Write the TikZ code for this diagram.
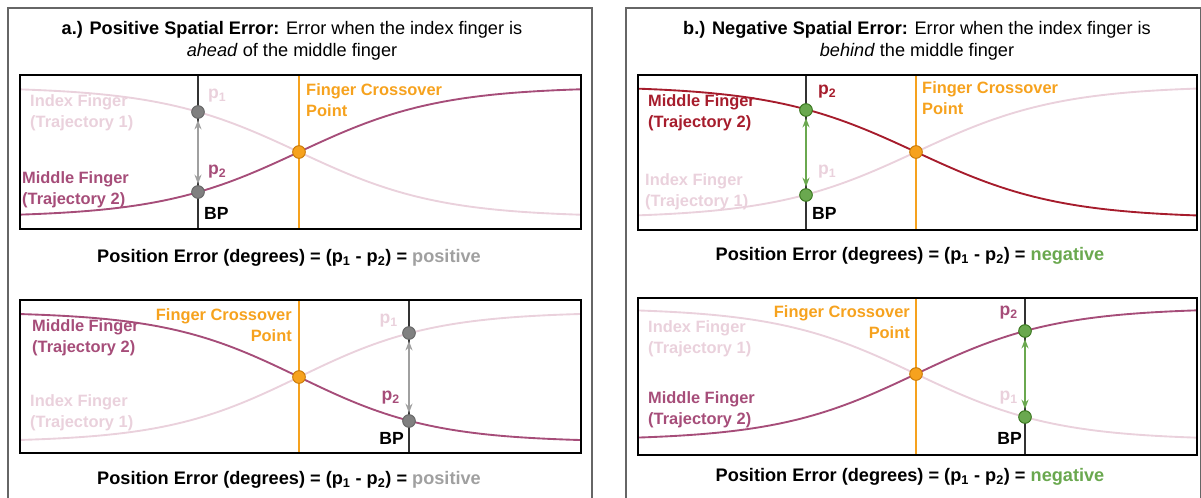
\documentclass[tikz,border=0pt]{standalone}
\usepackage{fontspec}
\setmainfont{Liberation Sans}
\usetikzlibrary{arrows.meta, positioning}

\definecolor{pale}{HTML}{EAD1DC}
\definecolor{plum}{HTML}{A64D79}
\definecolor{berry}{HTML}{A61C2C}
\definecolor{amber}{HTML}{F6A21E}
\definecolor{amberdk}{HTML}{C97A0A}
\definecolor{leaf}{HTML}{6AA84F}
\definecolor{leafdk}{HTML}{38761D}
\definecolor{ash}{HTML}{A0A0A0}
\definecolor{ashdk}{HTML}{666666}

\newcommand{\pone}{p\textsubscript{1}}
\newcommand{\ptwo}{p\textsubscript{2}}

\begin{document}
\begin{tikzpicture}[x=0.03cm, y=-0.03cm,
    every node/.style={font=\fontsize{15.5}{19}\selectfont},
    outer/.style={draw=ashdk, line width=0.9pt},
    box/.style={draw=black, line width=1.8pt},
    traj/.style={line width=1.6pt},
    vl/.style={line width=1.2pt},
    dot/.style={circle, draw, line width=0.8pt, inner sep=0pt, minimum size=0.38cm},
    lab/.style={font=\bfseries\fontsize{14}{18}\selectfont, align=left, inner sep=0pt},
    pl/.style={font=\bfseries\fontsize{15}{15}\selectfont, inner sep=0pt},
    a/.style={{Stealth[length=8pt,width=6pt]}-{Stealth[length=8pt,width=6pt]}, line width=1.6pt, shorten <=1pt, shorten >=1pt},
    err/.style={font=\bfseries\fontsize{15.5}{18}\selectfont}
]
\clip (0,0) rectangle (1201,497);

% outer panels
\draw[outer] (8,8) rectangle (592,530);
\draw[outer] (626,8) rectangle (1200.5,530);
\node[align=center] (ta) at (292,41) {\textbf{a.) Positive Spatial Error:} Error when the index finger is\\\textit{ahead} of the middle finger};
\node[align=center] (tb) at (917,41) {\textbf{b.) Negative Spatial Error:} Error when the index finger is\\\textit{behind} the middle finger};

% ---- a, top
\draw[traj, pale] plot[domain=20:581, samples=90] (\x, {152+65*tanh((\x-299)/140)});
\draw[traj, plum] plot[domain=20:581, samples=90] (\x, {152-65*tanh((\x-299)/140)});
\coordinate (bpa1t) at (198,75);  \coordinate (bpa1b) at (198,229);
\coordinate (cxa1t) at (299,75);  \coordinate (cxa1b) at (299,229);
\draw[vl, black!80] (bpa1t) -- (bpa1b);
\draw[vl, amber] (cxa1t) -- (cxa1b);
\node[dot, fill=ash!80!black, draw=ashdk] (p1a1) at (198,112) {};
\node[dot, fill=ash!80!black, draw=ashdk] (p2a1) at (198,192) {};
\node[dot, fill=amber, draw=amberdk] (xa1) at (299,152) {};
\draw[a, ash] (p2a1) -- (p1a1);
\node[lab, pale, anchor=west] (ia1) at (30,113) {Index Finger\\(Trajectory 1)};
\node[lab, plum, anchor=west] (ma1) at (22,190) {Middle Finger\\(Trajectory 2)};
\node[lab, amber, anchor=west] (ca1) at (306,100) {Finger Crossover\\Point};
\node[pl, pale, anchor=west] at (208,96) {\pone};
\node[pl, plum, anchor=west] at (208,172) {\ptwo};
\node[pl, black, anchor=west] at (204,213) {BP};
\draw[box] (20,75) rectangle (581,229);
\node[err] (ea1) at (289,258) {Position Error (degrees) = (\pone\ - \ptwo) = \textcolor{ash}{positive}};

% ---- a, bottom
\draw[traj, pale] plot[domain=20:581, samples=90] (\x, {377-65*tanh((\x-299)/135)});
\draw[traj, plum] plot[domain=20:581, samples=90] (\x, {377+65*tanh((\x-299)/135)});
\coordinate (bpa2t) at (409,300);  \coordinate (bpa2b) at (409,453);
\coordinate (cxa2t) at (299,300);  \coordinate (cxa2b) at (299,453);
\draw[vl, black!80] (bpa2t) -- (bpa2b);
\draw[vl, amber] (cxa2t) -- (cxa2b);
\node[dot, fill=ash!80!black, draw=ashdk] (p1a2) at (409,333) {};
\node[dot, fill=ash!80!black, draw=ashdk] (p2a2) at (409,421) {};
\node[dot, fill=amber, draw=amberdk] (xa2) at (299,377) {};
\draw[a, ash] (p2a2) -- (p1a2);
\node[lab, plum, anchor=west] (ma2) at (32,338) {Middle Finger\\(Trajectory 2)};
\node[lab, pale, anchor=west] (ia2) at (30,413) {Index Finger\\(Trajectory 1)};
\node[lab, amber, anchor=east, align=right] (ca2) at (292,325) {Finger Crossover\\Point};
\node[pl, pale, anchor=east] at (398,321) {\pone};
\node[pl, plum, anchor=east] at (400,398) {\ptwo};
\node[pl, black, anchor=east] at (404,438) {BP};
\draw[box] (20,300) rectangle (581,453);
\node[err] (ea2) at (289,480) {Position Error (degrees) = (\pone\ - \ptwo) = \textcolor{ash}{positive}};

% ---- b, top
\draw[traj, pale] plot[domain=638:1197, samples=90] (\x, {152-66*tanh((\x-916)/143)});
\draw[traj, berry] plot[domain=638:1197, samples=90] (\x, {152+66*tanh((\x-916)/143)});
\coordinate (bpb1t) at (806,75);  \coordinate (bpb1b) at (806,230);
\coordinate (cxb1t) at (916,75);  \coordinate (cxb1b) at (916,230);
\draw[vl, black!80] (bpb1t) -- (bpb1b);
\draw[vl, amber] (cxb1t) -- (cxb1b);
\node[dot, fill=leaf, draw=leafdk] (p2b1) at (806,110) {};
\node[dot, fill=leaf, draw=leafdk] (p1b1) at (806,195) {};
\node[dot, fill=amber, draw=amberdk] (xb1) at (916,152) {};
\draw[a, leaf] (p1b1) -- (p2b1);
\node[lab, berry, anchor=west] (mb1) at (648,113) {Middle Finger\\(Trajectory 2)};
\node[lab, pale, anchor=west] (ib1) at (645,192) {Index Finger\\(Trajectory 1)};
\node[lab, amber, anchor=west] (cb1) at (922,98) {Finger Crossover\\Point};
\node[pl, berry, anchor=west] at (818,92) {\ptwo};
\node[pl, pale, anchor=west] at (818,172) {\pone};
\node[pl, black, anchor=west] at (812,213) {BP};
\draw[box] (638,75) rectangle (1197,230);
\node[err] (eb1) at (910,256) {Position Error (degrees) = (\pone\ - \ptwo) = \textcolor{leaf}{negative}};

% ---- b, bottom
\draw[traj, pale] plot[domain=638:1197, samples=90] (\x, {374+66*tanh((\x-916)/140)});
\draw[traj, plum] plot[domain=638:1197, samples=90] (\x, {374-66*tanh((\x-916)/140)});
\coordinate (bpb2t) at (1025,298);  \coordinate (bpb2b) at (1025,455);
\coordinate (cxb2t) at (916,298);   \coordinate (cxb2b) at (916,455);
\draw[vl, black!80] (bpb2t) -- (bpb2b);
\draw[vl, amber] (cxb2t) -- (cxb2b);
\node[dot, fill=leaf, draw=leafdk] (p2b2) at (1025,331) {};
\node[dot, fill=leaf, draw=leafdk] (p1b2) at (1025,417) {};
\node[dot, fill=amber, draw=amberdk] (xb2) at (916,374) {};
\draw[a, leaf] (p1b2) -- (p2b2);
\node[lab, pale, anchor=west] (ib2) at (648,339) {Index Finger\\(Trajectory 1)};
\node[lab, plum, anchor=west] (mb2) at (648,410) {Middle Finger\\(Trajectory 2)};
\node[lab, amber, anchor=east, align=right] (cb2) at (910,322) {Finger Crossover\\Point};
\node[pl, plum, anchor=east] at (1018,313) {\ptwo};
\node[pl, pale, anchor=east] at (1018,398) {\pone};
\node[pl, black, anchor=east] at (1022,438) {BP};
\draw[box] (638,298) rectangle (1197,455);
\node[err] (eb2) at (910,477) {Position Error (degrees) = (\pone\ - \ptwo) = \textcolor{leaf}{negative}};
\end{tikzpicture}
\end{document}
